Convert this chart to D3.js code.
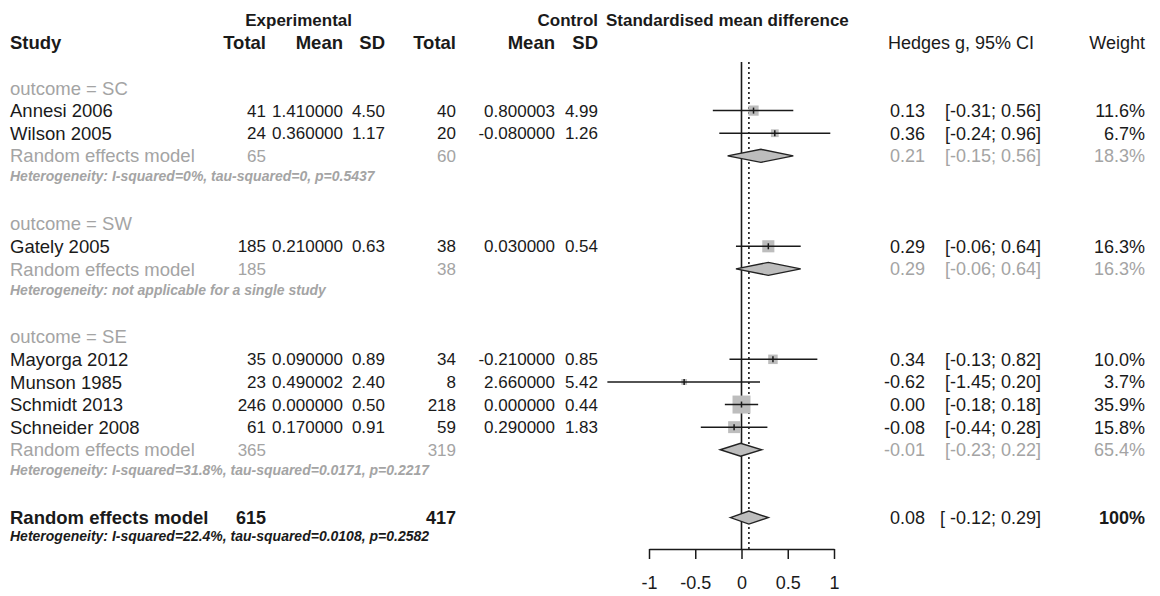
<!DOCTYPE html>
<html>
<head>
<meta charset="utf-8">
<script src="https://cdn.jsdelivr.net/npm/d3@7"></script>
<style>
  body { margin: 0; background: #fff; }
  text { font-family: "Liberation Sans", Arial, sans-serif; }
</style>
</head>
<body>
<div id="chart"></div>
<script>
// Forest plot: standardised mean difference by outcome subgroup

// studies
const studies   = ['Annesi 2006', 'Wilson 2005', 'Gately 2005', 'Mayorga 2012', 'Munson 1985', 'Schmidt 2013', 'Schneider 2008'];
const studyGrp  = ['SC', 'SC', 'SW', 'SE', 'SE', 'SE', 'SE'];
const expN      = [41, 24, 185, 35, 23, 246, 61];
const expMean   = ['1.410000', '0.360000', '0.210000', '0.090000', '0.490002', '0.000000', '0.170000'];
const expSD     = ['4.50', '1.17', '0.63', '0.89', '2.40', '0.50', '0.91'];
const ctlN      = [40, 20, 38, 34, 8, 218, 59];
const ctlMean   = ['0.800003', '-0.080000', '0.030000', '-0.210000', '2.660000', '0.000000', '0.290000'];
const ctlSD     = ['4.99', '1.26', '0.54', '0.85', '5.42', '0.44', '1.83'];
const smd       = [0.13, 0.36, 0.29, 0.34, -0.62, 0.00, -0.08];
const smdLo     = [-0.31, -0.24, -0.06, -0.13, -1.45, -0.18, -0.44];
const smdHi     = [0.56, 0.96, 0.64, 0.82, 0.20, 0.18, 0.28];
const weight    = [11.6, 6.7, 16.3, 10.0, 3.7, 35.9, 15.8];

// subgroups
const groups    = ['SC', 'SW', 'SE'];
const grpExpN   = [65, 185, 365];
const grpCtlN   = [60, 38, 319];
const grpSmd    = [0.21, 0.29, -0.01];
const grpLo     = [-0.15, -0.06, -0.23];
const grpHi     = [0.56, 0.64, 0.22];
const grpWeight = [18.3, 16.3, 65.4];
const grpHet    = [
  'Heterogeneity: I-squared=0%, tau-squared=0, p=0.5437',
  'Heterogeneity: not applicable for a single study',
  'Heterogeneity: I-squared=31.8%, tau-squared=0.0171, p=0.2217'
];

// overall
const allExpN = 615, allCtlN = 417;
const allSmd = 0.08, allLo = -0.12, allHi = 0.29;
const allHet = 'Heterogeneity: I-squared=22.4%, tau-squared=0.0108, p=0.2582';

const axisTicks = [-1, -0.5, 0, 0.5, 1];

const width = 1160, height = 596;
const BLACK = '#1a1a1a', GREY = '#a4a4a4';
const FS_LABEL = 18.5, FS_NUM = 17, FS_RIGHT = 18, FS_HET = 14, FS_TOP = 17;
const fmt2 = d3.format('.2f');
const fmtNum = v => fmt2(v).replace('−', '-');

const svg = d3.select('#chart').append('svg')
  .attr('width', width)
  .attr('height', height);

const x = d3.scaleLinear().domain([-1, 1]).range([649, 834]);
const y = d3.scaleLinear().domain([0, 19]).range([88, 517.6]);

// column anchors (right aligned)
const col = { study: 10, eN: 266, eM: 343, eS: 385, cN: 456, cM: 555, cS: 598, est: 925, ci: 1041, w: 1145 };

function txt(xp, yp, s, o = {}) {
  return svg.append('text')
    .attr('x', xp).attr('y', yp).attr('dy', '0.36em')
    .attr('text-anchor', o.anchor || 'end')
    .attr('font-size', o.size || FS_NUM)
    .attr('font-weight', o.bold ? 'bold' : 'normal')
    .attr('font-style', o.italic ? 'italic' : 'normal')
    .attr('fill', o.color || BLACK)
    .text(s);
}

// headers
txt(352, y(-3), 'Experimental', { bold: true, size: FS_TOP });
txt(col.cS, y(-3), 'Control', { bold: true, size: FS_TOP });
txt(606, y(-3), 'Standardised mean difference', { bold: true, anchor: 'start', size: FS_TOP });
txt(col.study, y(-2), 'Study', { bold: true, anchor: 'start', size: FS_LABEL });
[['Total', col.eN], ['Mean', col.eM], ['SD', col.eS], ['Total', col.cN], ['Mean', col.cM], ['SD', col.cS]]
  .forEach(([s, c]) => txt(c, y(-2), s, { bold: true, size: FS_LABEL }));
txt(888, y(-2), 'Hedges g, 95% CI', { anchor: 'start', size: FS_RIGHT });
txt(col.w, y(-2), 'Weight', { size: FS_RIGHT });

// reference lines
const lineTop = 62, lineBot = 549;
svg.append('line')
  .attr('x1', x(0)).attr('x2', x(0)).attr('y1', lineTop).attr('y2', lineBot)
  .attr('stroke', BLACK).attr('stroke-width', 1.6);
svg.append('line')
  .attr('x1', x(allSmd)).attr('x2', x(allSmd)).attr('y1', lineTop).attr('y2', lineBot)
  .attr('stroke', BLACK).attr('stroke-width', 1.6).attr('stroke-dasharray', '2,3');

function diamond(est, lo, hi, yp, h = 6.5) {
  svg.append('path')
    .attr('d', `M${x(lo)},${yp}L${x(est)},${yp - h}L${x(hi)},${yp}L${x(est)},${yp + h}Z`)
    .attr('fill', '#bdbdbd').attr('stroke', '#222').attr('stroke-width', 1.4);
}

function ciText(est, lo, hi, yp, color, spaced) {
  txt(col.est, yp, fmtNum(est), { color, size: FS_RIGHT });
  txt(col.ci, yp, `[${spaced ? ' ' : ''}${fmtNum(lo)}; ${fmtNum(hi)}]`, { color, size: FS_RIGHT });
}

let row = 0;
groups.forEach((g, gi) => {
  txt(col.study, y(row), `outcome = ${g}`, { anchor: 'start', color: GREY, size: FS_LABEL });
  row++;
  studies.forEach((s, i) => {
    if (studyGrp[i] !== g) return;
    const yp = y(row);
    txt(col.study, yp, s, { anchor: 'start', size: FS_LABEL });
    txt(col.eN, yp, expN[i]);
    txt(col.eM, yp, expMean[i]);
    txt(col.eS, yp, expSD[i]);
    txt(col.cN, yp, ctlN[i]);
    txt(col.cM, yp, ctlMean[i]);
    txt(col.cS, yp, ctlSD[i]);

    // square area proportional to weight
    const side = 3 * Math.sqrt(weight[i]);
    svg.append('rect')
      .attr('x', x(smd[i]) - side / 2).attr('y', yp - side / 2)
      .attr('width', side).attr('height', side)
      .attr('fill', '#bdbdbd');
    svg.append('line')
      .attr('x1', x(smdLo[i])).attr('x2', x(smdHi[i])).attr('y1', yp).attr('y2', yp)
      .attr('stroke', BLACK).attr('stroke-width', 1.5);
    svg.append('line')
      .attr('x1', x(smd[i])).attr('x2', x(smd[i])).attr('y1', yp - 3).attr('y2', yp + 3)
      .attr('stroke', BLACK).attr('stroke-width', 1.5);

    ciText(smd[i], smdLo[i], smdHi[i], yp, BLACK);
    txt(col.w, yp, weight[i].toFixed(1) + '%', { size: FS_RIGHT });
    row++;
  });
  const yr = y(row);
  txt(col.study, yr, 'Random effects model', { anchor: 'start', color: GREY, size: FS_LABEL });
  txt(col.eN, yr, grpExpN[gi], { color: GREY });
  txt(col.cN, yr, grpCtlN[gi], { color: GREY });
  diamond(grpSmd[gi], grpLo[gi], grpHi[gi], yr);
  ciText(grpSmd[gi], grpLo[gi], grpHi[gi], yr, GREY);
  txt(col.w, yr, grpWeight[gi].toFixed(1) + '%', { color: GREY, size: FS_RIGHT });
  row++;
  txt(col.study, y(row) - 2, grpHet[gi], { anchor: 'start', color: GREY, size: FS_HET, bold: true, italic: true });
  row += 2;
});

// overall
const yo = y(row);
txt(col.study, yo, 'Random effects model', { anchor: 'start', bold: true, size: FS_LABEL });
txt(col.eN, yo, allExpN, { bold: true, size: 18 });
txt(col.cN, yo, allCtlN, { bold: true, size: 18 });
diamond(allSmd, allLo, allHi, yo);
ciText(allSmd, allLo, allHi, yo, BLACK, true);
txt(col.w, yo, '100%', { bold: true, size: FS_RIGHT });
txt(col.study, y(row + 1) - 4, allHet, { anchor: 'start', size: FS_HET, bold: true, italic: true });

// x axis
const axis = svg.append('g')
  .attr('transform', `translate(0,${lineBot})`)
  .call(d3.axisBottom(x).tickValues(axisTicks).tickFormat(d => String(d)).tickSize(10).tickSizeOuter(0).tickPadding(17));
axis.select('.domain').attr('stroke', BLACK).attr('stroke-width', 1.5);
axis.selectAll('.tick line').attr('stroke', BLACK).attr('stroke-width', 1.5);
axis.selectAll('.tick text')
  .attr('font-size', 18).attr('fill', BLACK)
  .attr('font-family', '"Liberation Sans", Arial, sans-serif');
</script>
</body>
</html>
